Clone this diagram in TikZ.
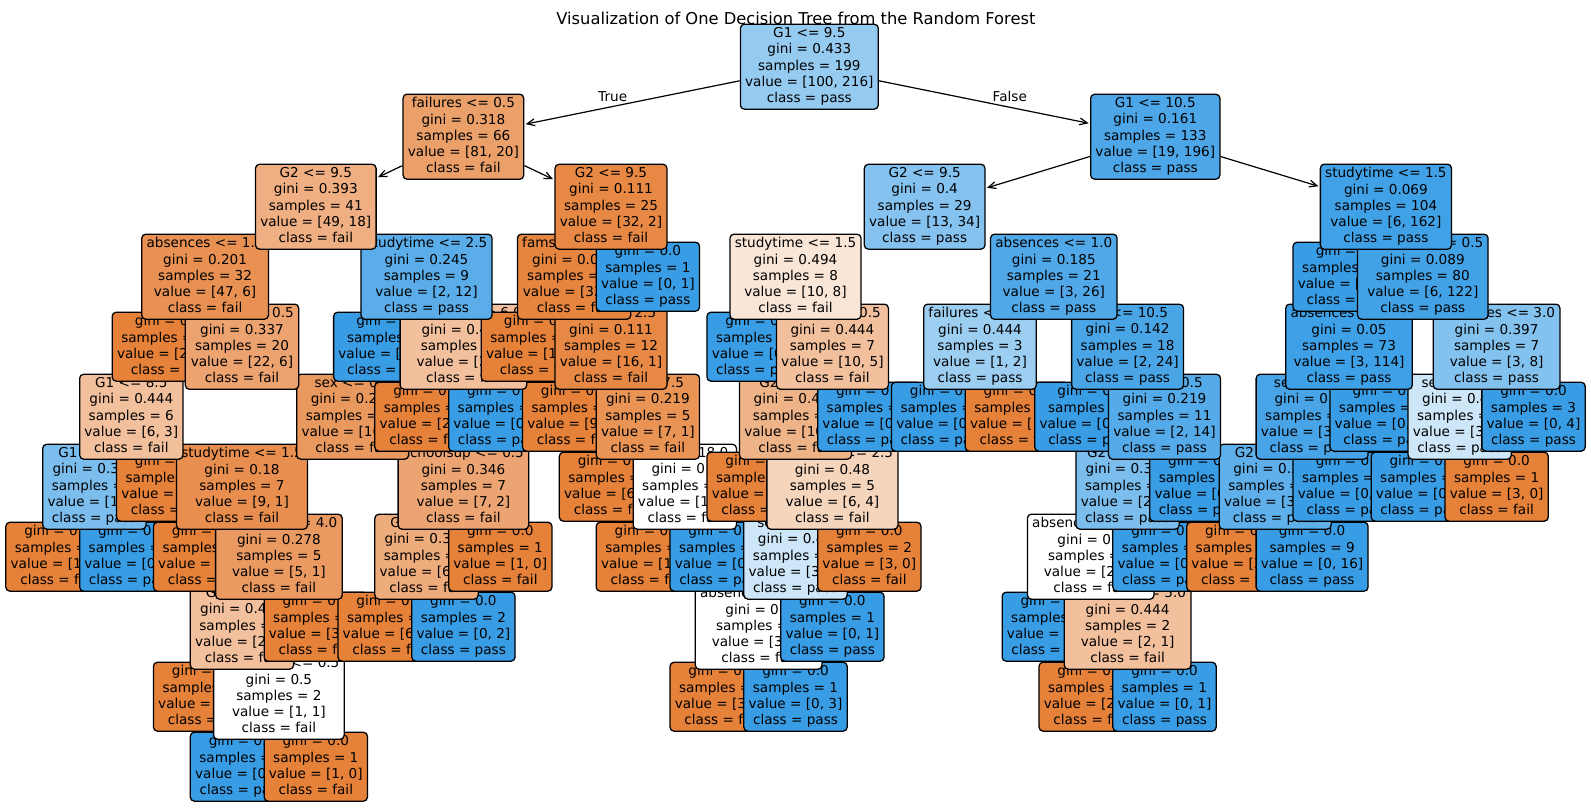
\documentclass[tikz,border=0pt]{standalone}
\usepackage{fontspec}
\setmainfont{DejaVu Sans}
\usetikzlibrary{%
   arrows.meta}
\definecolor{fail}{RGB}{229,129,57}
\definecolor{pass}{RGB}{57,157,229}
\newcommand{\treefont}{\fontsize{9.67pt}{11.52pt}\selectfont}
\newcommand{\titlefont}{\fontsize{11.6pt}{13.9pt}\selectfont}
\newcommand{\boxstrut}{\rule[-0.236em]{0pt}{1.164em}}

\begin{document}
\begin{tikzpicture}[x=9.225mm,y=-17.5mm,font=\treefont,shorten >=1pt,>={Straight Barb[length=1.9mm,width=1.7mm]},
	box/.style={draw=black,line width=0.32mm,rounded corners=1mm,align=center,inner xsep=1.2mm,inner ysep=0.85mm,execute at begin node=\boxstrut,execute at end node=\boxstrut},
	tone/.code 2 args={\pgfmathsetmacro\toneshade{100*(1-min(#1,#2)/max(#1,#2))}\pgfmathtruncatemacro\tonewin{#1<#2}\ifnum\tonewin=1 \tikzset{fill/.expanded={pass!\toneshade!white}}\else\tikzset{fill/.expanded={fail!\toneshade!white}}\fi}]
		\useasboundingbox[fill=white] (-1.5583,-0.9529) rectangle (41.5583,10.6471);
		\node[font=\titlefont,anchor=base] (title) at (20.01,-0.607) {Visualization of One Decision Tree from the Random Forest};
		\node[box,tone={0}{1}] (t_18) at (5,10) {gini = 0.0\\samples = 1\\value = [0, 1]\\class = pass};
		\node[box,tone={1}{0}] (t_19) at (7,10) {gini = 0.0\\samples = 1\\value = [1, 0]\\class = fail};
		\node[box,tone={1}{0}] (t_16) at (4,9) {gini = 0.0\\samples = 1\\value = [1, 0]\\class = fail};
		\node[box,tone={1}{1}] (t_17) at (6,9) {schoolsup <= 0.5\\gini = 0.5\\samples = 2\\value = [1, 1]\\class = fail};
		\node[box,tone={3}{0}] (t_52) at (18,9) {gini = 0.0\\samples = 1\\value = [3, 0]\\class = fail};
		\node[box,tone={0}{3}] (t_53) at (20,9) {gini = 0.0\\samples = 1\\value = [0, 3]\\class = pass};
		\node[box,tone={2}{0}] (t_68) at (28,9) {gini = 0.0\\samples = 1\\value = [2, 0]\\class = fail};
		\node[box,tone={0}{1}] (t_69) at (30,9) {gini = 0.0\\samples = 1\\value = [0, 1]\\class = pass};
		\node[box,tone={2}{1}] (t_15) at (5,8) {G2 <= 8.5\\gini = 0.444\\samples = 3\\value = [2, 1]\\class = fail};
		\node[box,tone={3}{0}] (t_20) at (7,8) {gini = 0.0\\samples = 2\\value = [3, 0]\\class = fail};
		\node[box,tone={6}{0}] (t_23) at (9,8) {gini = 0.0\\samples = 4\\value = [6, 0]\\class = fail};
		\node[box,tone={0}{2}] (t_24) at (11,8) {gini = 0.0\\samples = 2\\value = [0, 2]\\class = pass};
		\node[box,tone={3}{3}] (t_51) at (19,8) {absences <= 7.0\\gini = 0.5\\samples = 2\\value = [3, 3]\\class = fail};
		\node[box,tone={0}{1}] (t_54) at (21,8) {gini = 0.0\\samples = 1\\value = [0, 1]\\class = pass};
		\node[box,tone={0}{1}] (t_66) at (27,8) {gini = 0.0\\samples = 1\\value = [0, 1]\\class = pass};
		\node[box,tone={2}{1}] (t_67) at (29,8) {absences <= 5.0\\gini = 0.444\\samples = 2\\value = [2, 1]\\class = fail};
		\node[box,tone={1}{0}] (t_8) at (0,7) {gini = 0.0\\samples = 1\\value = [1, 0]\\class = fail};
		\node[box,tone={0}{3}] (t_9) at (2,7) {gini = 0.0\\samples = 2\\value = [0, 3]\\class = pass};
		\node[box,tone={4}{0}] (t_13) at (4,7) {gini = 0.0\\samples = 2\\value = [4, 0]\\class = fail};
		\node[box,tone={5}{1}] (t_14) at (6,7) {absences <= 4.0\\gini = 0.278\\samples = 5\\value = [5, 1]\\class = fail};
		\node[box,tone={6}{2}] (t_22) at (10,7) {G2 <= 7.5\\gini = 0.375\\samples = 6\\value = [6, 2]\\class = fail};
		\node[box,tone={1}{0}] (t_25) at (12,7) {gini = 0.0\\samples = 1\\value = [1, 0]\\class = fail};
		\node[box,tone={1}{0}] (t_39) at (16,7) {gini = 0.0\\samples = 1\\value = [1, 0]\\class = fail};
		\node[box,tone={0}{1}] (t_40) at (18,7) {gini = 0.0\\samples = 1\\value = [0, 1]\\class = pass};
		\node[box,tone={3}{4}] (t_50) at (20,7) {sex <= 0.5\\gini = 0.49\\samples = 3\\value = [3, 4]\\class = pass};
		\node[box,tone={3}{0}] (t_55) at (22,7) {gini = 0.0\\samples = 2\\value = [3, 0]\\class = fail};
		\node[box,tone={2}{2}] (t_65) at (28,7) {absences <= 3.0\\gini = 0.5\\samples = 3\\value = [2, 2]\\class = fail};
		\node[box,tone={0}{4}] (t_70) at (30,7) {gini = 0.0\\samples = 3\\value = [0, 4]\\class = pass};
		\node[box,tone={3}{0}] (t_78) at (32,7) {gini = 0.0\\samples = 2\\value = [3, 0]\\class = fail};
		\node[box,tone={0}{16}] (t_79) at (34,7) {gini = 0.0\\samples = 9\\value = [0, 16]\\class = pass};
		\node[box,tone={1}{3}] (t_7) at (1,6) {G1 <= 7.5\\gini = 0.375\\samples = 3\\value = [1, 3]\\class = pass};
		\node[box,tone={5}{0}] (t_10) at (3,6) {gini = 0.0\\samples = 3\\value = [5, 0]\\class = fail};
		\node[box,tone={9}{1}] (t_12) at (5,6) {studytime <= 1.5\\gini = 0.18\\samples = 7\\value = [9, 1]\\class = fail};
		\node[box,tone={7}{2}] (t_21) at (11,6) {schoolsup <= 0.5\\gini = 0.346\\samples = 7\\value = [7, 2]\\class = fail};
		\node[box,tone={6}{0}] (t_37) at (15,6) {gini = 0.0\\samples = 3\\value = [6, 0]\\class = fail};
		\node[box,tone={1}{1}] (t_38) at (17,6) {age <= 18.0\\gini = 0.5\\samples = 2\\value = [1, 1]\\class = fail};
		\node[box,tone={4}{0}] (t_48) at (19,6) {gini = 0.0\\samples = 1\\value = [4, 0]\\class = fail};
		\node[box,tone={6}{4}] (t_49) at (21,6) {studytime <= 2.5\\gini = 0.48\\samples = 5\\value = [6, 4]\\class = fail};
		\node[box,tone={2}{6}] (t_64) at (29,6) {G2 <= 12.5\\gini = 0.375\\samples = 6\\value = [2, 6]\\class = pass};
		\node[box,tone={0}{8}] (t_71) at (31,6) {gini = 0.0\\samples = 5\\value = [0, 8]\\class = pass};
		\node[box,tone={3}{16}] (t_77) at (33,6) {G2 <= 11.5\\gini = 0.266\\samples = 11\\value = [3, 16]\\class = pass};
		\node[box,tone={0}{24}] (t_80) at (35,6) {gini = 0.0\\samples = 14\\value = [0, 24]\\class = pass};
		\node[box,tone={0}{4}] (t_84) at (37,6) {gini = 0.0\\samples = 3\\value = [0, 4]\\class = pass};
		\node[box,tone={3}{0}] (t_85) at (39,6) {gini = 0.0\\samples = 1\\value = [3, 0]\\class = fail};
		\node[box,tone={6}{3}] (t_6) at (2,5) {G1 <= 8.5\\gini = 0.444\\samples = 6\\value = [6, 3]\\class = fail};
		\node[box,tone={16}{3}] (t_11) at (8,5) {sex <= 0.5\\gini = 0.266\\samples = 14\\value = [16, 3]\\class = fail};
		\node[box,tone={2}{0}] (t_29) at (10,5) {gini = 0.0\\samples = 1\\value = [2, 0]\\class = fail};
		\node[box,tone={0}{1}] (t_30) at (12,5) {gini = 0.0\\samples = 1\\value = [0, 1]\\class = pass};
		\node[box,tone={9}{0}] (t_35) at (14,5) {gini = 0.0\\samples = 7\\value = [9, 0]\\class = fail};
		\node[box,tone={7}{1}] (t_36) at (16,5) {G1 <= 7.5\\gini = 0.219\\samples = 5\\value = [7, 1]\\class = fail};
		\node[box,tone={10}{4}] (t_47) at (20,5) {G2 <= 8.5\\gini = 0.408\\samples = 6\\value = [10, 4]\\class = fail};
		\node[box,tone={0}{1}] (t_56) at (22,5) {gini = 0.0\\samples = 1\\value = [0, 1]\\class = pass};
		\node[box,tone={0}{2}] (t_59) at (24,5) {gini = 0.0\\samples = 2\\value = [0, 2]\\class = pass};
		\node[box,tone={1}{0}] (t_60) at (26,5) {gini = 0.0\\samples = 1\\value = [1, 0]\\class = fail};
		\node[box,tone={0}{10}] (t_62) at (28,5) {gini = 0.0\\samples = 7\\value = [0, 10]\\class = pass};
		\node[box,tone={2}{14}] (t_63) at (30,5) {sex <= 0.5\\gini = 0.219\\samples = 11\\value = [2, 14]\\class = pass};
		\node[box,tone={3}{40}] (t_76) at (34,5) {sex <= 0.5\\gini = 0.13\\samples = 25\\value = [3, 40]\\class = pass};
		\node[box,tone={0}{74}] (t_81) at (36,5) {gini = 0.0\\samples = 48\\value = [0, 74]\\class = pass};
		\node[box,tone={3}{4}] (t_83) at (38,5) {sex <= 0.5\\gini = 0.49\\samples = 4\\value = [3, 4]\\class = pass};
		\node[box,tone={0}{4}] (t_86) at (40,5) {gini = 0.0\\samples = 3\\value = [0, 4]\\class = pass};
		\node[box,tone={25}{0}] (t_4) at (3,4) {gini = 0.0\\samples = 12\\value = [25, 0]\\class = fail};
		\node[box,tone={22}{6}] (t_5) at (5,4) {famsup <= 0.5\\gini = 0.337\\samples = 20\\value = [22, 6]\\class = fail};
		\node[box,tone={0}{11}] (t_27) at (9,4) {gini = 0.0\\samples = 7\\value = [0, 11]\\class = pass};
		\node[box,tone={2}{1}] (t_28) at (11,4) {absences <= 6.0\\gini = 0.444\\samples = 2\\value = [2, 1]\\class = fail};
		\node[box,tone={16}{0}] (t_33) at (13,4) {gini = 0.0\\samples = 12\\value = [16, 0]\\class = fail};
		\node[box,tone={16}{1}] (t_34) at (15,4) {Medu <= 2.5\\gini = 0.111\\samples = 12\\value = [16, 1]\\class = fail};
		\node[box,tone={0}{3}] (t_45) at (19,4) {gini = 0.0\\samples = 1\\value = [0, 3]\\class = pass};
		\node[box,tone={10}{5}] (t_46) at (21,4) {higher <= 0.5\\gini = 0.444\\samples = 7\\value = [10, 5]\\class = fail};
		\node[box,tone={1}{2}] (t_58) at (25,4) {failures <= 0.5\\gini = 0.444\\samples = 3\\value = [1, 2]\\class = pass};
		\node[box,tone={2}{24}] (t_61) at (29,4) {G2 <= 10.5\\gini = 0.142\\samples = 18\\value = [2, 24]\\class = pass};
		\node[box,tone={3}{114}] (t_75) at (35,4) {absences <= 9.0\\gini = 0.05\\samples = 73\\value = [3, 114]\\class = pass};
		\node[box,tone={3}{8}] (t_82) at (39,4) {absences <= 3.0\\gini = 0.397\\samples = 7\\value = [3, 8]\\class = pass};
		\node[box,tone={47}{6}] (t_3) at (4,3) {absences <= 1.5\\gini = 0.201\\samples = 32\\value = [47, 6]\\class = fail};
		\node[box,tone={2}{12}] (t_26) at (10,3) {studytime <= 2.5\\gini = 0.245\\samples = 9\\value = [2, 12]\\class = pass};
		\node[box,tone={32}{1}] (t_32) at (14,3) {famsup <= 0.5\\gini = 0.059\\samples = 24\\value = [32, 1]\\class = fail};
		\node[box,tone={0}{1}] (t_41) at (16,3) {gini = 0.0\\samples = 1\\value = [0, 1]\\class = pass};
		\node[box,tone={10}{8}] (t_44) at (20,3) {studytime <= 1.5\\gini = 0.494\\samples = 8\\value = [10, 8]\\class = fail};
		\node[box,tone={3}{26}] (t_57) at (27,3) {absences <= 1.0\\gini = 0.185\\samples = 21\\value = [3, 26]\\class = pass};
		\node[box,tone={0}{40}] (t_73) at (35,3) {gini = 0.0\\samples = 24\\value = [0, 40]\\class = pass};
		\node[box,tone={6}{122}] (t_74) at (37,3) {schoolsup <= 0.5\\gini = 0.089\\samples = 80\\value = [6, 122]\\class = pass};
		\node[box,tone={49}{18}] (t_2) at (7,2) {G2 <= 9.5\\gini = 0.393\\samples = 41\\value = [49, 18]\\class = fail};
		\node[box,tone={32}{2}] (t_31) at (15,2) {G2 <= 9.5\\gini = 0.111\\samples = 25\\value = [32, 2]\\class = fail};
		\node[box,tone={13}{34}] (t_43) at (23.5,2) {G2 <= 9.5\\gini = 0.4\\samples = 29\\value = [13, 34]\\class = pass};
		\node[box,tone={6}{162}] (t_72) at (36,2) {studytime <= 1.5\\gini = 0.069\\samples = 104\\value = [6, 162]\\class = pass};
		\node[box,tone={81}{20}] (t_1) at (11,1) {failures <= 0.5\\gini = 0.318\\samples = 66\\value = [81, 20]\\class = fail};
		\node[box,tone={19}{196}] (t_42) at (29.75,1) {G1 <= 10.5\\gini = 0.161\\samples = 133\\value = [19, 196]\\class = pass};
		\node[box,tone={100}{216}] (t_0) at (20.375,0) {G1 <= 9.5\\gini = 0.433\\samples = 199\\value = [100, 216]\\class = pass};
		\path[->,line width=0.3mm] (t_0) edge node[pos=.59,above] {True} (t_1)
			edge node[pos=.62,above] {False} (t_42)
			(t_1) edge (t_2)
			edge (t_31)
			(t_42) edge (t_43)
			edge (t_72);
	\end{tikzpicture}
\end{document}
